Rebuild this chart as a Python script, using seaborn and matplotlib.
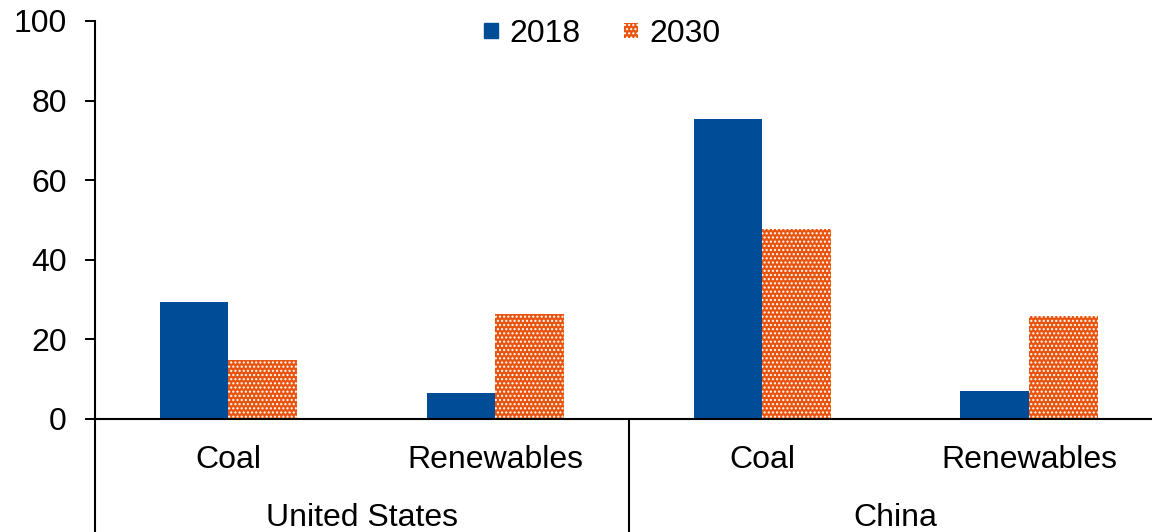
import matplotlib
matplotlib.use("Agg")
import matplotlib.pyplot as plt
import seaborn as sns
import pandas as pd
from matplotlib.patches import Patch

regions = ["United States", "China"]
sources = ["Coal", "Renewables"]
years = ["2018", "2030"]
values_2018 = [29.4, 6.5, 75.4, 7.0]
values_2030 = [14.8, 26.4, 47.7, 25.9]

cats = [f"{r}|{s}" for r in regions for s in sources]
df = pd.DataFrame({
    "cat": cats * 2,
    "year": [years[0]] * 4 + [years[1]] * 4,
    "value": values_2018 + values_2030,
})

sns.set_theme(style="white")
plt.rcParams["font.family"] = ["Liberation Sans", "DejaVu Sans"]
plt.rcParams["hatch.linewidth"] = 1.0
plt.rcParams["text.color"] = "black"

BLUE = "#004C97"
ORANGE = "#E8540E"
FS = 23

fig = plt.figure(figsize=(11.52, 5.32), dpi=100)
ax = fig.add_axes([95 / 1152, 0, 1 - 95 / 1152, 1 - 21 / 532])

sns.barplot(data=df, x="cat", y="value", hue="year", order=cats,
            hue_order=years, palette=[BLUE, ORANGE], saturation=1,
            width=0.515, gap=0, ax=ax, legend=False, linewidth=0)

HATCH = "...."
for bar in ax.containers[1]:
    bar.set_hatch(HATCH)
    bar.set_edgecolor("white")
    bar.set_linewidth(0)

ax.set_ylim(-28.4, 100)
ax.set_xlim(-0.5, 3.46)
ax.set_xlabel("")
ax.set_ylabel("")
ax.set_xticks([])
ax.set_yticks([0, 20, 40, 60, 80, 100])
ax.tick_params(axis="y", direction="out", length=7.2, width=1.4, labelsize=FS,
               left=True, pad=13, colors="black")
for s in ["top", "right", "bottom"]:
    ax.spines[s].set_visible(False)
ax.spines["left"].set_linewidth(1.5)
ax.spines["left"].set_color("black")

ax.axhline(0, color="black", linewidth=1.5)
ax.plot([1.5, 1.5], [-28.4, 0], color="black", linewidth=1.5, clip_on=False)

for i, c in enumerate(cats):
    r, s = c.split("|")
    ax.text(i, -10.3, s, ha="center", va="center", fontsize=FS, color="black")
for j, r in enumerate(regions):
    ax.text(0.5 + 2 * j, -25.0, r, ha="center", va="center", fontsize=FS,
            color="black")

handles = [Patch(facecolor=BLUE, edgecolor=BLUE, label=years[0]),
           Patch(facecolor=ORANGE, edgecolor="white", hatch=HATCH, linewidth=0,
                 label=years[1])]
leg = fig.legend(handles=handles, loc="center",
                 bbox_to_anchor=(602 / 1152, 1 - 34 / 532),
                 ncol=2, frameon=False, fontsize=FS, handlelength=0.45,
                 handleheight=0.32, handletextpad=0.35, columnspacing=1.35)
for t in leg.get_texts():
    t.set_color("black")

fig.savefig("out.png", dpi=100)
